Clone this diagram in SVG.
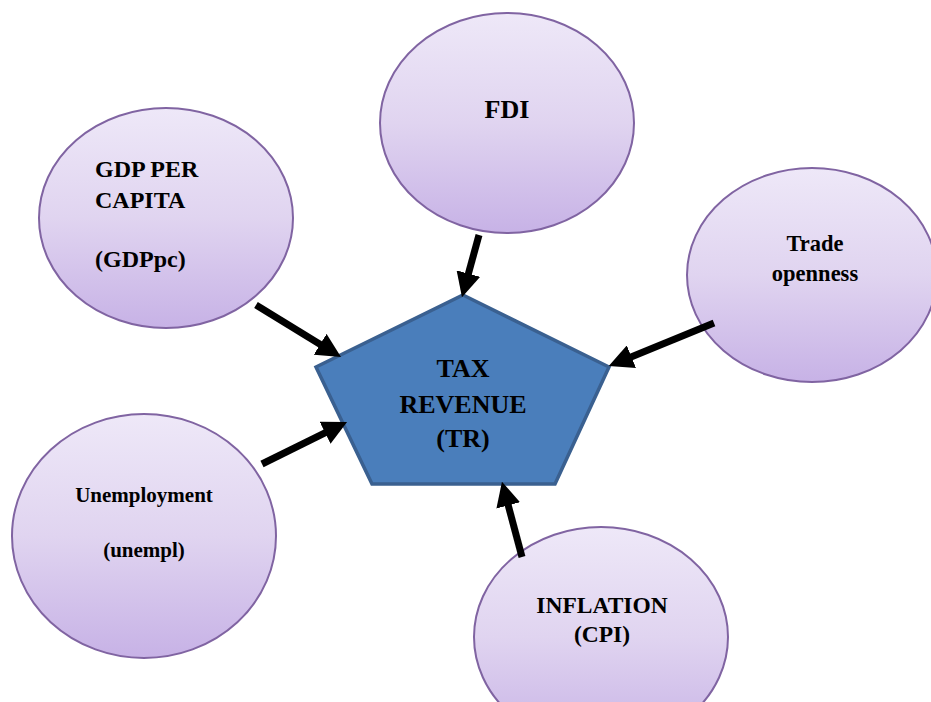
<svg xmlns="http://www.w3.org/2000/svg" width="931" height="702" viewBox="0 0 931 702">
<defs>
  <linearGradient id="lav" x1="0" y1="0" x2="0" y2="1">
    <stop offset="0" stop-color="#eee8f8"/>
    <stop offset="0.5" stop-color="#e0d4f0"/>
    <stop offset="1" stop-color="#c7b2e6"/>
  </linearGradient>
  <marker id="head" viewBox="0 0 10 10" refX="5" refY="5" markerWidth="3.5" markerHeight="3.5" orient="auto">
    <path d="M0,0 L10,5 L0,10 z" fill="#000"/>
  </marker>
</defs>
<style>
  .node ellipse { fill: url(#lav); stroke: #8064a2; stroke-width: 2; }
  .lbl { font-family: "Liberation Serif", "Times New Roman", serif; font-weight: bold; fill: #000; }
  .c { text-anchor: middle; }
  .conn line { stroke: #000; stroke-width: 7; marker-end: url(#head); }
</style>
<rect width="931" height="702" fill="#fff"/>

<g id="fdi" class="node">
  <ellipse cx="507" cy="123" rx="127" ry="110"/>
  <text class="lbl c" x="507" y="118" font-size="26">FDI</text>
</g>
<g id="gdppc" class="node">
  <ellipse cx="166" cy="218" rx="127" ry="110"/>
  <text class="lbl" x="95" y="177" font-size="24">GDP PER</text>
  <text class="lbl" x="95" y="208" font-size="24">CAPITA</text>
  <text class="lbl" x="95" y="267" font-size="24">(GDPpc)</text>
</g>
<g id="trade" class="node">
  <ellipse cx="812" cy="275" rx="125" ry="107"/>
  <text class="lbl c" x="815" y="251" font-size="22.5">Trade</text>
  <text class="lbl c" x="815" y="281" font-size="22.5">openness</text>
</g>
<g id="unempl" class="node">
  <ellipse cx="144" cy="536" rx="132" ry="122"/>
  <text class="lbl c" x="144" y="502" font-size="21">Unemployment</text>
  <text class="lbl c" x="144" y="557" font-size="21">(unempl)</text>
</g>
<g id="inflation" class="node">
  <ellipse cx="601" cy="637" rx="127" ry="110"/>
  <text class="lbl c" x="602" y="613" font-size="23.5">INFLATION</text>
  <text class="lbl c" x="602" y="642" font-size="23.5">(CPI)</text>
</g>
<g id="tr" class="node">
  <polygon points="463,295 609,367 555,484 372,484 316,367" fill="#4a7ebb" stroke="#3a6090" stroke-width="3.5" stroke-linejoin="miter"/>
  <text class="lbl c" x="463" y="377" font-size="26">TAX</text>
  <text class="lbl c" x="463" y="413" font-size="26">REVENUE</text>
  <text class="lbl c" x="463" y="447" font-size="26">(TR)</text>
</g>

<g id="connectors" class="conn">
  <line x1="256" y1="305" x2="330.6" y2="350.7"/>
  <line x1="262" y1="464" x2="336.1" y2="427.4"/>
  <line x1="479" y1="235" x2="465.2" y2="285.4"/>
  <line x1="714" y1="323" x2="620.1" y2="361.4"/>
  <line x1="522" y1="557" x2="505.1" y2="493.6"/>
</g>
</svg>
